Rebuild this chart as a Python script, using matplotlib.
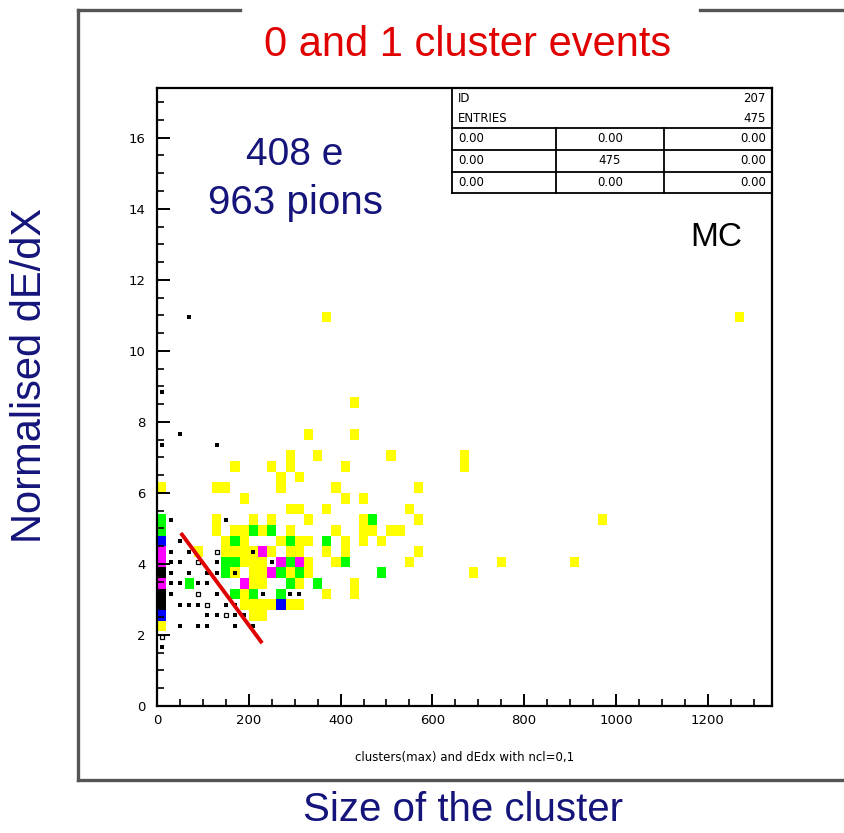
import numpy as np
import matplotlib
matplotlib.use("Agg")
import matplotlib.pyplot as plt
from matplotlib.colors import ListedColormap, BoundaryNorm
from matplotlib.lines import Line2D

# 2D histogram binning: cluster size (x) vs normalised dE/dX (y)
x_bin = 20.0
y_bin = 0.3
x_max = 1340.0
y_max = 17.4

# filled boxes (column, row) grouped by bin content
hits_1 = [(0, 20), (0, 7), (18, 36), (63, 36), (21, 28), (16, 25), (21, 25),
          (14, 23), (17, 23), (25, 23), (33, 23),
          (8, 22), (12, 22), (14, 22), (20, 22), (33, 22),
          (13, 21), (15, 21),
          (6, 20), (7, 20), (13, 20), (19, 20), (28, 20),
          (9, 19), (20, 19), (22, 19),
          (14, 18), (15, 18), (18, 18), (27, 18),
          (6, 17), (10, 17), (12, 17), (16, 17), (22, 17), (28, 17), (48, 17),
          (6, 16), (8, 16), (9, 16), (11, 16), (14, 16), (19, 16), (22, 16),
          (23, 16), (25, 16), (26, 16),
          (7, 15), (9, 15), (13, 15), (15, 15), (16, 15), (20, 15), (22, 15), (24, 15),
          (4, 14), (7, 14), (8, 14), (9, 14), (10, 14), (12, 14), (14, 14),
          (15, 14), (18, 14), (20, 14), (28, 14),
          (9, 13), (10, 13), (11, 13), (16, 13), (19, 13), (27, 13), (37, 13), (45, 13),
          (8, 12), (10, 12), (11, 12), (14, 12), (16, 12), (34, 12),
          (15, 11), (21, 11), (10, 11), (11, 11),
          (9, 10), (18, 10), (21, 10),
          (9, 9), (10, 9), (11, 9), (12, 9), (14, 9), (15, 9),
          (10, 8), (11, 8)]
hits_2 = [(0, 17), (0, 16), (23, 17), (10, 16), (12, 16), (8, 15), (14, 15), (18, 15),
          (7, 13), (8, 13), (14, 13), (20, 13), (7, 12), (13, 12), (15, 12), (24, 12),
          (3, 11), (14, 11), (17, 11), (8, 10), (10, 10), (13, 10)]
hits_3 = [(0, 15), (0, 8), (13, 9)]
hits_4 = [(0, 14), (0, 13), (0, 11), (11, 14), (13, 13), (15, 13), (12, 12), (9, 11)]
hits_8 = [(0, 12), (0, 10), (0, 9)]

# small boxes of the second sample (column, row)
dots_small = [(2, 15), (1, 14), (3, 14), (10, 14), (1, 13), (2, 13), (6, 13), (12, 13),
              (1, 12), (3, 12), (5, 12), (6, 12), (8, 12), (1, 11), (2, 11), (4, 11),
              (5, 11), (1, 10), (6, 10), (11, 10), (14, 10), (15, 10), (2, 9), (3, 9),
              (4, 9), (7, 9), (8, 9), (5, 8), (6, 8), (8, 8), (9, 8), (2, 7), (4, 7),
              (5, 7), (8, 7), (10, 7), (1, 17), (7, 17), (0, 24), (6, 24), (3, 36),
              (0, 29), (2, 25), (0, 5)]
dots_open = [(6, 14), (4, 13), (4, 10), (5, 9), (7, 8), (0, 6)]

# cut line drawn by hand
cut_x = [52, 229]
cut_y = [4.87, 1.77]

x_ticks = [0, 200, 400, 600, 800, 1000, 1200]
y_ticks = [0, 2, 4, 6, 8, 10, 12, 14, 16]

stats_top = [("ID", "207"), ("ENTRIES", "475")]
stats_grid = [["0.00", "0.00", "0.00"],
              ["0.00", "475", "0.00"],
              ["0.00", "0.00", "0.00"]]

W, H = 844, 833
fig = plt.figure(figsize=(W / 100, H / 100), dpi=100)


def fx(px):
    return px / W


def fy(py):
    return 1 - py / H


ax = fig.add_axes([fx(157), fy(706), fx(772) - fx(157), fy(88) - fy(706)])

nx = int(round(x_max / x_bin))
ny = int(round(y_max / y_bin))
grid = np.zeros((ny, nx))
for level, cells in [(1, hits_1), (2, hits_2), (3, hits_3), (4, hits_4), (8, hits_8)]:
    for c, r in cells:
        grid[r, c] = level
xe = np.arange(nx + 1) * x_bin
ye = np.arange(ny + 1) * y_bin
cmap = ListedColormap(["#ffff00", "#00ff00", "#0000ff", "#ff00ff", "#000000"])
norm = BoundaryNorm([0.5, 1.5, 2.5, 3.5, 4.5, 100], cmap.N)
ax.pcolormesh(xe, ye, np.ma.masked_equal(grid, 0), cmap=cmap, norm=norm)

ds = np.array(dots_small, dtype=float)
ax.plot((ds[:, 0] + 0.5) * x_bin, (ds[:, 1] + 0.5) * y_bin, "s", color="black",
        ms=2.2, mew=0)
do = np.array(dots_open, dtype=float)
ax.plot((do[:, 0] + 0.5) * x_bin, (do[:, 1] + 0.5) * y_bin, "s", mfc="none",
        mec="black", ms=3.5, mew=0.9)

ax.plot(cut_x, cut_y, color="#e00000", lw=2.8, solid_capstyle="butt")

ax.set_xlim(0, x_max)
ax.set_ylim(0, y_max)
ax.set_xticks(x_ticks)
ax.set_yticks(y_ticks)
ax.set_xticks(np.arange(0, x_max, 50), minor=True)
ax.set_yticks(np.arange(0, y_max, 0.5), minor=True)
ax.tick_params(which="both", direction="in", colors="black", labelsize=9.5)
ax.tick_params(which="major", length=9, width=1.4)
ax.tick_params(which="minor", length=5, width=1.2)
ax.tick_params(axis="x", pad=6)
ax.tick_params(axis="y", pad=8)
for s in ax.spines.values():
    s.set_linewidth(1.6)

# statistics box in the top right corner
bx0, bx1 = 452, 772
rows_y = [88, 108, 128, 150, 172, 193]
box_lines = [([bx0, bx0], [rows_y[0], rows_y[-1]]), ([bx1, bx1], [rows_y[0], rows_y[-1]]),
             ([bx0, bx1], [rows_y[0], rows_y[0]]), ([bx0, bx1], [rows_y[-1], rows_y[-1]])]
for yy in rows_y[2:5]:
    box_lines.append(([bx0, bx1], [yy, yy]))
for xx in [556, 664]:
    box_lines.append(([xx, xx], [rows_y[2], rows_y[-1]]))
for xs, ys in box_lines:
    fig.add_artist(Line2D([fx(v) for v in xs], [fy(v) for v in ys], color="black", lw=1.3))
for i, (name, val) in enumerate(stats_top):
    yc = (rows_y[i] + rows_y[i + 1]) / 2
    fig.text(fx(458), fy(yc), name, ha="left", va="center", fontsize=8.5)
    fig.text(fx(766), fy(yc), val, ha="right", va="center", fontsize=8.5)
for i, row in enumerate(stats_grid):
    yc = (rows_y[i + 2] + rows_y[i + 3]) / 2
    fig.text(fx(458), fy(yc), row[0], ha="left", va="center", fontsize=8.5)
    fig.text(fx(610), fy(yc), row[1], ha="center", va="center", fontsize=8.5)
    fig.text(fx(766), fy(yc), row[2], ha="right", va="center", fontsize=8.5)

# outer slide frame
frame_col = "#555555"
for xs, ys in [([78, 78], [10, 780]), ([78, 240], [10, 10]), ([700, 844], [10, 10]),
               ([78, 844], [780, 780])]:
    fig.add_artist(Line2D([fx(v) for v in xs], [fy(v) for v in ys], color=frame_col, lw=2.4))

sans = ["Liberation Sans", "DejaVu Sans"]
navy = "#14147a"
fig.text(fx(468), fy(45), "0 and 1 cluster events", color="#e00000", fontsize=30,
         family=sans, ha="center", va="center")
fig.text(fx(295), fy(155), "408 e", color=navy, fontsize=28,
         family=sans, ha="center", va="center")
fig.text(fx(295), fy(203), "963 pions", color=navy, fontsize=29,
         family=sans, ha="center", va="center")
fig.text(fx(716), fy(237), "MC", color="black", fontsize=24,
         family=sans, ha="center", va="center")
fig.text(fx(30), fy(375), "Normalised dE/dX", color=navy, fontsize=30,
         family=sans, ha="center", va="center", rotation=90)
fig.text(fx(463), fy(810), "Size of the cluster", color=navy, fontsize=29,
         family=sans, ha="center", va="center")
fig.text(fx(465), fy(757), "clusters(max) and dEdx with ncl=0,1", color="black",
         fontsize=8.5, ha="center", va="center")

fig.savefig("out.png", dpi=100)
